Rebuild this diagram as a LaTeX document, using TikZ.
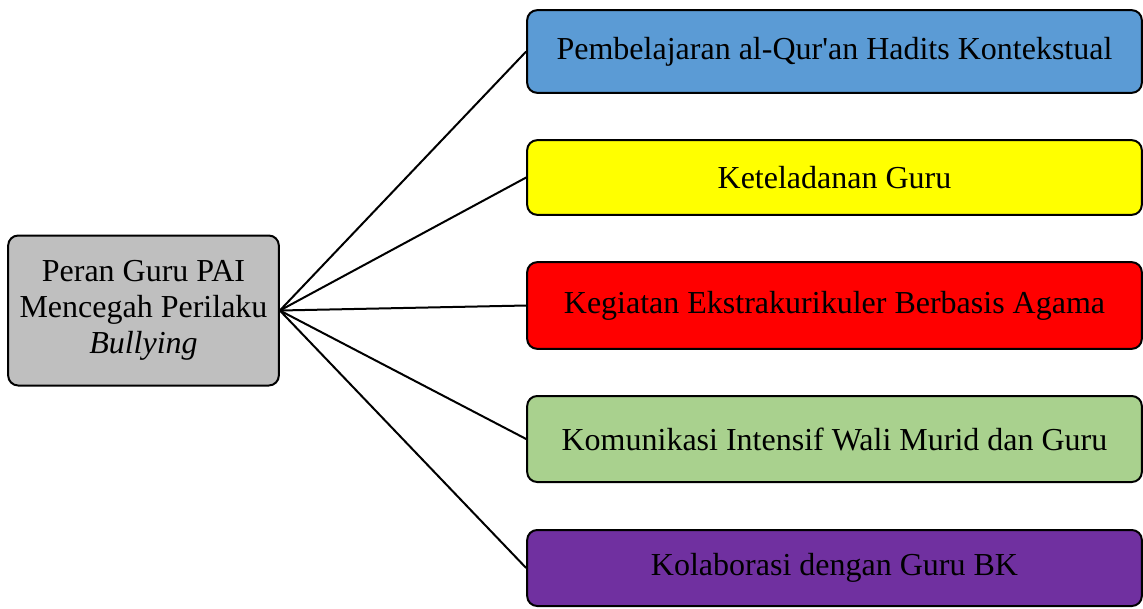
\documentclass[tikz,border=0pt]{standalone}
\usepackage{fontspec}
\setmainfont{Liberation Serif}
\definecolor{abu}{HTML}{BFBFBF}
\definecolor{biru}{HTML}{5B9BD5}
\definecolor{kuning}{HTML}{FFFF00}
\definecolor{merah}{HTML}{FF0000}
\definecolor{hijau}{HTML}{A9D18E}
\definecolor{ungu}{HTML}{7030A0}

\begin{document}
\begin{tikzpicture}
	[x=0.75pt,y=-0.75pt,every node/.style={draw=black,line width=1.5pt,rounded corners=7.5pt,inner sep=2pt,font=\fontsize{24}{27}\selectfont}]
	\tikzset{peran/.style = {minimum width=461pt,align=center}}
	\tikzset{edge/.style = {line width=1.5pt}}
	\useasboundingbox (0,0) rectangle (1143,608);
	\node[fill=abu,minimum width=203pt,minimum height=112.5pt,align=center] (pai) at (143.5,310.5) {Peran Guru PAI\\Mencegah Perilaku\\\textit{Bullying}};
	\node[peran,fill=biru,minimum height=62pt] (p1) at (834.5,51.5) {Pembelajaran al-Qur\textquotesingle an Hadits Kontekstual};
	\node[peran,fill=kuning,minimum height=56pt] (p2) at (834.5,177.5) {Keteladanan Guru};
	\node[peran,fill=merah,minimum height=65pt] (p3) at (834.5,305.5) {Kegiatan Ekstrakurikuler Berbasis Agama};
	\node[peran,fill=hijau,minimum height=64.5pt] (p4) at (834.5,439) {Komunikasi Intensif Wali Murid dan Guru};
	\node[peran,fill=ungu,minimum height=57pt] (p5) at (834.5,568) {Kolaborasi dengan Guru BK};
	
	\foreach \to in {p1,p2,p3,p4,p5}
	\draw[edge] (pai.east)--(\to.west);
\end{tikzpicture}
\end{document}
